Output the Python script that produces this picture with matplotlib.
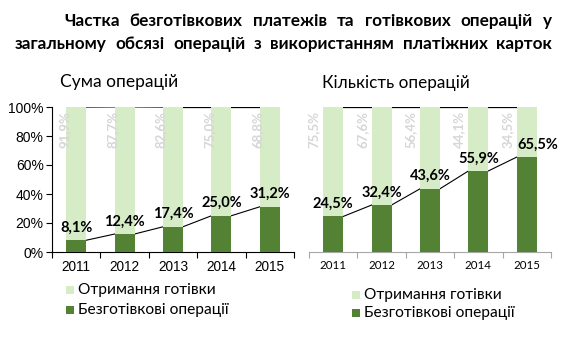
import matplotlib
matplotlib.use("Agg")
import matplotlib.pyplot as plt
from matplotlib.patches import Rectangle

years = ["2011", "2012", "2013", "2014", "2015"]
sum_noncash = [8.1, 12.4, 17.4, 25.0, 31.2]
sum_cash = [91.9, 87.7, 82.6, 75.0, 68.8]
cnt_noncash = [24.5, 32.4, 43.6, 55.9, 65.5]
cnt_cash = [75.5, 67.6, 56.4, 44.1, 34.5]

title_lines = ["Частка безготівкових платежів та готівкових операцій у",
               "загальному обсязі операцій з використанням платіжних карток"]
subtitle_left = "Сума операцій"
subtitle_right = "Кількість операцій"
legend_labels = ["Отримання готівки", "Безготівкові операції"]

DARK = "#548235"
LIGHT = "#d5ecc6"
W, H = 567, 349
fig = plt.figure(figsize=(W / 100, H / 100), dpi=100)
fig.patch.set_facecolor("white")

def fmt(v):
    return f"{v:.1f}%".replace(".", ",")

def px_axes(x0, y0, x1, y1):
    return fig.add_axes([x0 / W, 1 - y1 / H, (x1 - x0) / W, (y1 - y0) / H])

bw = 0.41

def draw(ax, noncash, cash, left_axis, year_font, year_size, cash_dx, tick_color, last_dx):
    x = list(range(len(years)))
    ax.bar(x, noncash, width=bw, color=DARK, zorder=3)
    ax.bar(x, cash, width=bw, bottom=noncash, color=LIGHT, zorder=3)
    tops = [a + b for a, b in zip(noncash, cash)]
    for i in range(len(x) - 1):
        ax.plot([x[i] + bw / 2, x[i + 1] - bw / 2], [noncash[i], noncash[i + 1]],
                color="black", lw=0.8, zorder=2)
        ax.plot([x[i] + bw / 2, x[i + 1] - bw / 2], [tops[i], tops[i + 1]],
                color="black", lw=0.9, zorder=2)
    for i, v in enumerate(noncash):
        dx = last_dx if i == len(noncash) - 1 else 0
        ax.annotate(fmt(v), (x[i], v), xytext=(dx, 4), textcoords="offset points",
                    ha="center", va="bottom", fontsize=10.5, fontweight="bold",
                    family="Lato", color="black", zorder=5)
    for i, v in enumerate(cash):
        ax.text(x[i] + cash_dx, 97, fmt(v), rotation=90, ha="center", va="top",
                fontsize=9.5, fontweight="bold", family="Lato", color="#d6d6d6", zorder=5)
    ax.set_xlim(-0.5, len(years) - 0.5)
    ax.set_ylim(0, 100)
    for s in ["top", "right"]:
        ax.spines[s].set_visible(False)
    ax.spines["bottom"].set_color(tick_color)
    ax.spines["bottom"].set_linewidth(0.8)
    ax.set_xticks([i - 0.5 for i in range(len(years) + 1)])
    ax.set_xticklabels([])
    ax.set_xticks(x, minor=True)
    ax.set_xticklabels(years, minor=True, family=year_font, fontsize=year_size)
    ax.tick_params(axis="x", which="major", length=4, color=tick_color, width=0.8)
    ax.tick_params(axis="x", which="minor", length=0, pad=6)
    if left_axis:
        ax.spines["left"].set_color("black")
        ax.spines["left"].set_linewidth(0.8)
        ax.set_yticks([0, 20, 40, 60, 80, 100])
        ax.set_yticklabels([f"{t}%" for t in [0, 20, 40, 60, 80, 100]],
                           family="Liberation Sans", fontsize=10)
        ax.tick_params(axis="y", length=4, width=0.8, pad=2)
    else:
        ax.spines["left"].set_visible(False)
        ax.set_yticks([])

axL = px_axes(52, 107, 294, 252)
draw(axL, sum_noncash, sum_cash, True, "Liberation Sans", 9.8, -0.25, "black", 0)
axR = px_axes(309, 107, 551, 252)
draw(axR, cnt_noncash, cnt_cash, False, "Lato", 8.3, -0.40, "#a6a6a6", 8)

# justified title
fig.canvas.draw()
r = fig.canvas.get_renderer()

def justify(line, x0, x1, y, size):
    words = line.split(" ")
    ts = [fig.text(0, 1 - y / H, w_, fontsize=size, fontweight="bold", family="Lato",
                   va="center", ha="left") for w_ in words]
    widths = [t.get_window_extent(r).width for t in ts]
    gap = (x1 - x0 - sum(widths)) / (len(words) - 1)
    cx = x0
    for t, wd in zip(ts, widths):
        t.set_x(cx / W)
        cx += wd + gap

justify(title_lines[0], 64, 552, 21, 12.3)
justify(title_lines[1], 15, 552, 44, 12.3)

fig.text(60 / W, 1 - 82 / H, subtitle_left, fontsize=12.5, family="Lato", va="center")
fig.text(322 / W, 1 - 83 / H, subtitle_right, fontsize=12.3, family="Lato", va="center")

def legend(x, y, gap):
    for k, (lab, col) in enumerate(zip(legend_labels, [LIGHT, DARK])):
        yy = y + k * gap
        fig.patches.append(Rectangle((x / W, 1 - (yy + 4) / H), 8 / W, 8 / H,
                                     transform=fig.transFigure, facecolor=col,
                                     edgecolor="none", figure=fig))
        fig.text((x + 12) / W, 1 - yy / H, lab, fontsize=11.2, family="Lato", va="center")

legend(66, 290, 20)
legend(352, 295, 18)

fig.savefig("out.png", dpi=100, facecolor="white")
